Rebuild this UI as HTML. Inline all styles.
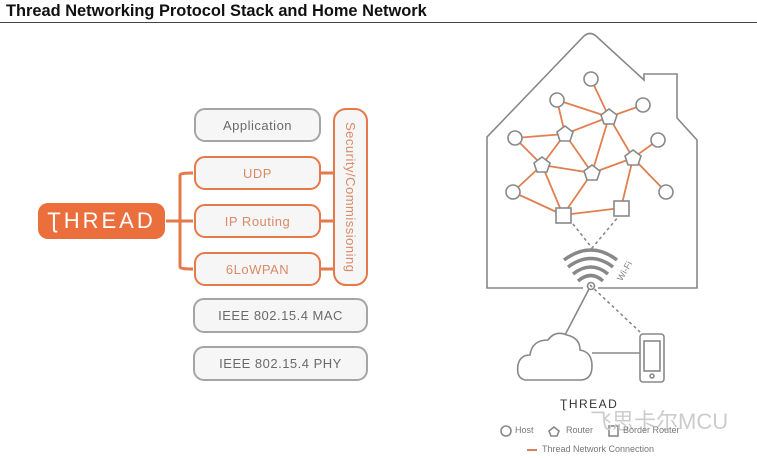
<!DOCTYPE html>
<html><head><meta charset="utf-8"><style>
body{margin:0;width:757px;height:458px;background:#fff;overflow:hidden;position:relative;font-family:"Liberation Sans",sans-serif}
.t{position:absolute;left:6px;top:2px;font-size:16.4px;font-weight:bold;color:#111}
.hr{position:absolute;left:0;top:22px;width:757px;height:1px;background:#444}
.b{position:absolute;box-sizing:border-box;border-radius:11px;background:#f6f6f6;display:flex;align-items:center;justify-content:center;font-size:13px;letter-spacing:.5px}
.o{border:2.6px solid #e4794a;color:#d98a66}
.g{border:2.6px solid #a5a5a5;color:#6a6a6a}
</style></head><body>
<div class="t">Thread Networking Protocol Stack and Home Network</div>
<div class="hr"></div>
<svg width="757" height="458" style="position:absolute;left:0;top:0">
<path d="M166 221H193M180 221V175Q180 173 193 173M180 221V267Q180 269 193 269M320 173H333M320 221H333M320 269H333" stroke="#e4794a" stroke-width="3" fill="none"/>
</svg>
<div class="b" style="left:38px;top:203px;width:127px;height:36px;background:#ea6f3c;color:#fff;font-size:22px;letter-spacing:3px;border-radius:10px">ƮHREAD</div>
<div class="b g" style="left:194px;top:108px;width:127px;height:34px">Application</div>
<div class="b o" style="left:194px;top:156px;width:127px;height:34px">UDP</div>
<div class="b o" style="left:194px;top:204px;width:127px;height:34px">IP Routing</div>
<div class="b o" style="left:194px;top:252px;width:127px;height:34px">6LoWPAN</div>
<div class="b o" style="left:333px;top:108px;width:35px;height:178px;border-radius:13px"><span style="writing-mode:vertical-rl;white-space:nowrap">Security/Commissioning</span></div>
<div class="b g" style="left:193px;top:298px;width:175px;height:35px">IEEE 802.15.4 MAC</div>
<div class="b g" style="left:193px;top:346px;width:175px;height:35px">IEEE 802.15.4 PHY</div>
<svg width="757" height="458" style="position:absolute;left:0;top:0" fill="none" stroke="#888" stroke-width="1.6">
<path d="M583 288H487V137L584 36Q590 31 596 36L644 80V74H677V118L697 140V288H598"/>
<g stroke="#e08050" stroke-width="1.8">
<path d="M591 79L609 117M557 100L565 134M557 100L609 117M609 117L643 105M609 117L565 134M609 117L592 173M609 117L633 158M515 138L565 134M565 134L542 165M565 134L592 173M515 138L542 165M633 158L658 140M633 158L666 192M542 165L513 192M542 165L563 215M513 192L563 215M542 165L592 173M592 173L633 158M592 173L563 215M563 215L621 208M633 158L621 208"/>
</g>
<g fill="#fff">
<circle cx="591" cy="79" r="7"/><circle cx="557" cy="100" r="7"/><circle cx="643" cy="105" r="7"/><circle cx="515" cy="138" r="7"/><circle cx="658" cy="140" r="7"/><circle cx="513" cy="192" r="7"/><circle cx="666" cy="192" r="7"/>
<path d="M609 109l8 6-3 9h-10l-3-9z"/><path d="M565 126l8 6-3 9h-10l-3-9z"/><path d="M542 157l8 6-3 9h-10l-3-9z"/><path d="M592 165l8 6-3 9h-10l-3-9z"/><path d="M633 150l8 6-3 9h-10l-3-9z"/>
<rect x="556" y="208" width="15" height="15"/><rect x="614" y="201" width="15" height="15"/>
</g>
<path d="M573 224L592 248L619 216M590 285L640 332" stroke-dasharray="3 3"/>
<g stroke-width="3.5">
<path d="M564 260Q591 240 617 260M568 267Q591 250 613 267M573 274Q591 260 608 274M578 281Q591 270 603 281"/>
</g>
<circle cx="591" cy="286" r="3.5"/>
<path d="M589 289L565 335"/>
<path d="M525 380Q516 378 518 365Q520 355 530 355Q532 340 548 340Q555 330 567 335Q580 338 580 350Q592 352 592 366Q592 380 580 380Z"/>
<path d="M592 353H640"/>
<rect x="640" y="334" width="24" height="48" rx="3"/><rect x="644" y="341" width="16" height="30"/><circle cx="652" cy="376" r="2"/>
<circle cx="506" cy="431" r="5"/><rect x="609" y="426" width="9" height="10"/>
<path d="M554 427l5 4-2 5h-6l-2-5z"/>
<path d="M527 450H537" stroke="#e08050" stroke-width="2"/>
</svg>
<div style="position:absolute;left:614px;top:266px;font-size:9px;color:#888;transform:rotate(-60deg)">Wi-Fi</div>
<div style="position:absolute;left:560px;top:397px;font-size:12px;letter-spacing:1.5px;color:#333">ƮHREAD</div>
<div style="position:absolute;left:590px;top:404px;font-size:22px;color:#ccc;font-family:'Liberation Sans','Noto Sans CJK SC',sans-serif">飞思卡尔MCU</div>
<div style="position:absolute;left:515px;top:425px;font-size:9px;color:#777">Host</div>
<div style="position:absolute;left:566px;top:425px;font-size:9px;color:#777">Router</div>
<div style="position:absolute;left:623px;top:425px;font-size:9px;color:#777">Border Router</div>
<div style="position:absolute;left:542px;top:444px;font-size:9px;color:#777">Thread Network Connection</div>
</body></html>
